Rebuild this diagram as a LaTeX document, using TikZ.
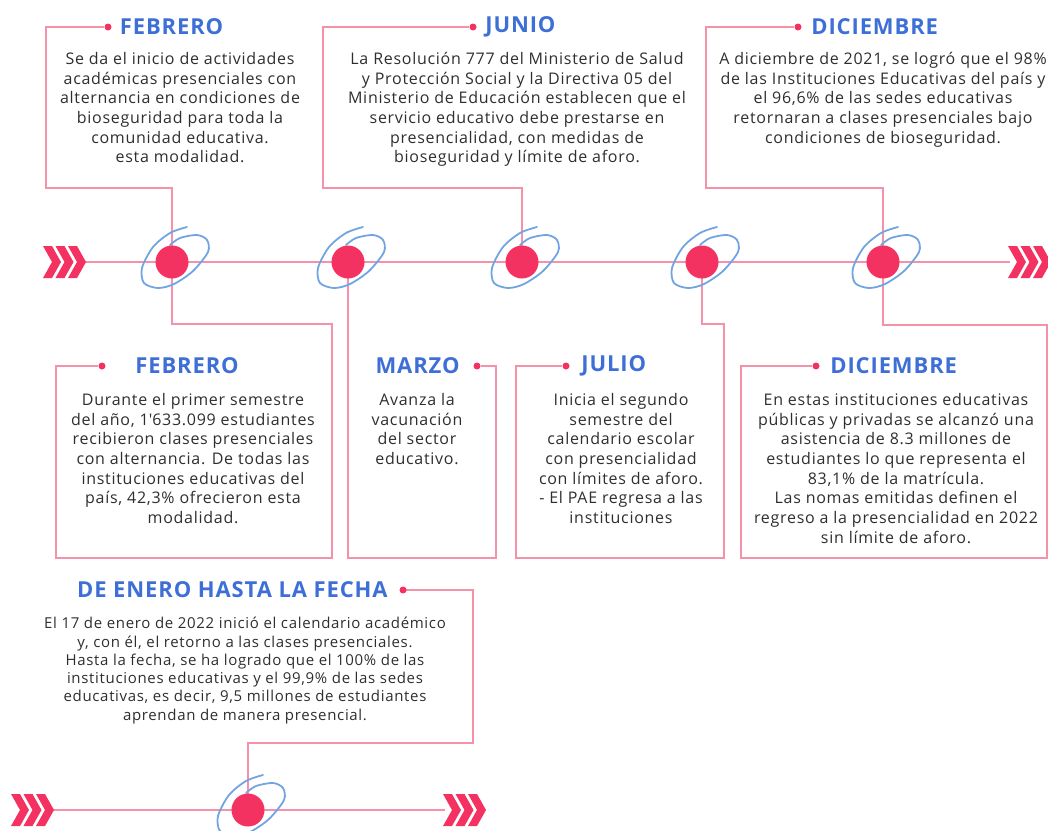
\documentclass[tikz,border=0pt]{standalone}
\usepackage{fontspec}
\setmainfont{Open Sans}
\newfontfamily\bodyfont[LetterSpace=4.5]{Open Sans}
\newfontfamily\headfont[LetterSpace=4]{Open Sans}
\usetikzlibrary{positioning,backgrounds}
\definecolor{linkpink}{HTML}{F591A9}
\definecolor{dotred}{HTML}{F43262}
\definecolor{headblue}{HTML}{3D6FD6}
\definecolor{orbitblue}{HTML}{72A4E2}
\definecolor{bodygray}{HTML}{2E2E2E}
\tikzset{
  link/.style={draw=linkpink, line width=1.6pt},
  bigdot/.style={circle, fill=dotred, minimum size=33pt, inner sep=0pt},
  smalldot/.style={circle, fill=dotred, minimum size=7pt, inner sep=0pt},
  month/.style={text=headblue, font=\headfont\fontsize{22}{24}\selectfont\bfseries, inner sep=0pt},
  body/.style={text=bodygray, font=\bodyfont\fontsize{16}{19.7}\selectfont, align=center,
    inner sep=0pt, anchor=north, execute at begin node={\rule{0pt}{14pt}}},
  orbit/.pic={
    \draw[orbitblue, line width=1.8pt, line cap=round] plot[smooth] coordinates
      {(15,-35) (-2,-29) (-19,-15) (-30,6) (-28,21) (-14,26) (2,22) (21,9)
       (36,-10) (35,-22) (25,-27) (8,-24) (-2,-17)};
  },
  chevrons/.pic={
    \foreach \k in {0,1,2}
      \fill[dotred] (\k*12.5,-16) -- ++(9,0) -- ++(9,16) -- ++(-9,16)
        -- ++(-9,0) -- ++(9,-16) -- cycle;
  }
}
\begin{document}
\begin{tikzpicture}[x=1pt, y=-1pt]
  \useasboundingbox (0,0) rectangle (1048,830);

  % timeline dots
  \node[bigdot] (d1) at (172,262) {};
  \node[bigdot] (d2) at (348,262) {};
  \node[bigdot] (d3) at (522,262) {};
  \node[bigdot] (d4) at (702,262) {};
  \node[bigdot] (d5) at (883,262) {};
  \node[bigdot] (d6) at (248,810) {};

  % small dots beside the months
  \node[smalldot] (p1) at (108,27) {};
  \node[smalldot] (p2) at (473,27) {};
  \node[smalldot] (p3) at (798,27) {};
  \node[smalldot] (p4) at (102,366) {};
  \node[smalldot] (p5) at (477,366) {};
  \node[smalldot] (p6) at (566,366) {};
  \node[smalldot] (p7) at (816,366) {};
  \node[smalldot] (p8) at (403,590) {};

  % months
  \node[month, right=8pt of p1] (h1) {FEBRERO};
  \node[month, right=8.5pt of p2] (h2) {JUNIO};
  \node[month, right=9.5pt of p3] (h3) {DICIEMBRE};
  \node[month, right=29.5pt of p4] (h4) {FEBRERO};
  \node[month, left=13.5pt of p5] (h5) {MARZO};
  \node[month, right=11.5pt of p6] (h6) {JULIO};
  \node[month, right=10.5pt of p7] (h7) {DICIEMBRE};
  \node[month, left=11.5pt of p8] (h8) {DE ENERO HASTA LA FECHA};

  % texts
  \node[body] (t1) at (180,52) {Se da el inicio de actividades\\
    académicas presenciales con\\ alternancia en condiciones de\\
    bioseguridad para toda la\\ comunidad educativa.\\ esta modalidad.};
  \node[body] (t2) at (517,52) {La Resolución 777 del Ministerio de Salud\\
    y Protección Social y la Directiva 05 del\\
    Ministerio de Educación establecen que el\\
    servicio educativo debe prestarse en\\
    presencialidad, con medidas de\\ bioseguridad y límite de aforo.};
  \node[body] (t3) at (883,52) {A diciembre de 2021, se logró que el 98\%\\
    de las Instituciones Educativas del país y\\
    el 96,6\% de las sedes educativas\\
    retornaran a clases presenciales bajo\\ condiciones de bioseguridad.};
  \node[body] (t4) at (193,393) {Durante el primer semestre\\
    del año, 1\textquotesingle633.099 estudiantes\\ recibieron clases presenciales\\
    con alternancia. De todas las\\ instituciones educativas del\\
    país, 42,3\% ofrecieron esta\\ modalidad.};
  \node[body] (t5) at (417,393) {Avanza la\\ vacunación\\ del sector\\ educativo.};
  \node[body] (t6) at (621,393) {Inicia el segundo\\ semestre del\\
    calendario escolar\\ con presencialidad\\ con límites de aforo.\\
    - El PAE regresa a las\\ instituciones};
  \node[body] (t7) at (896,393) {En estas instituciones educativas\\
    públicas y privadas se alcanzó una\\ asistencia de 8.3 millones de\\
    estudiantes lo que representa el\\ 83,1\% de la matrícula.\\
    Las nomas emitidas definen el\\ regreso a la presencialidad en 2022\\
    sin límite de aforo.};
  \node[body, font=\bodyfont\fontsize{15}{18.3}\selectfont] (t8) at (245,617)
    {El 17 de enero de 2022 inició el calendario académico\\
    y, con él, el retorno a las clases presenciales.\\
    Hasta la fecha, se ha logrado que el 100\% de las\\
    instituciones educativas y el 99,9\% de las sedes\\
    educativas, es decir, 9,5 millones de estudiantes\\
    aprendan de manera presencial.};

  % chevrons
  \pic at (43,262) {chevrons};
  \pic at (1008,262) {chevrons};
  \pic at (11,810) {chevrons};
  \pic at (443,810) {chevrons};
  \coordinate (a1) at (84,262);
  \coordinate (a2) at (1010,262);
  \coordinate (a3) at (52,810);
  \coordinate (a4) at (445,810);

  \begin{scope}[on background layer]
    \draw[link] (a1) -- (a2);
    \draw[link] (a3) -- (a4);
    \draw[link] (d1.center) |- ++(-126,-74) |- (p1);
    \draw[link] (d1.center) |- ++(160,62) |- ++(-276,234) |- (p4);
    \draw[link] (d2.center) |- ++(148,296) |- (p5);
    \draw[link] (d3.center) |- ++(-199,-74) |- (p2);
    \draw[link] (d4.center) |- ++(22,62) |- ++(-208,234) |- (p6);
    \draw[link] (d5.center) |- ++(-177,-74) |- (p3);
    \draw[link] (d5.center) |- ++(164,63) |- ++(-306,233) |- (p7);
    \draw[link] (p8.center) -| ++(70,153) -| (d6.center);
    \foreach \d in {d1,d2,d3,d4,d5,d6}
      \pic at (\d) {orbit};
  \end{scope}
\end{tikzpicture}
\end{document}
